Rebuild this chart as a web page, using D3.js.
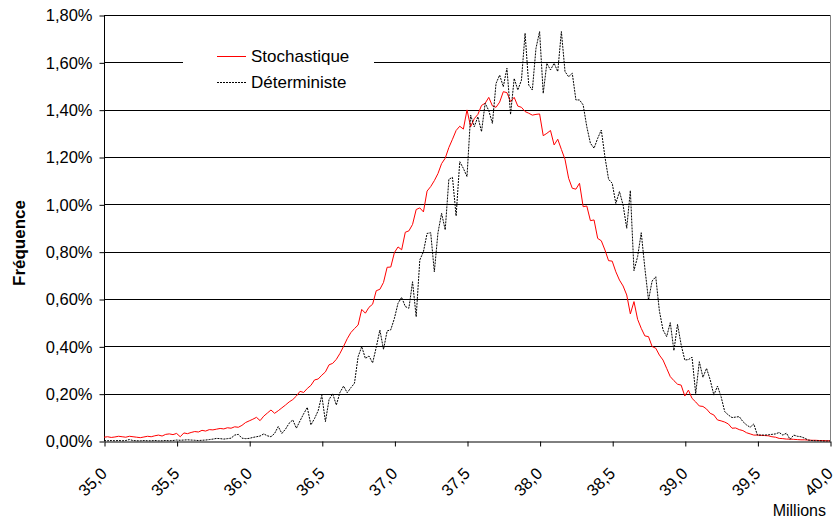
<!DOCTYPE html>
<html>
<head>
<meta charset="utf-8">
<script src="https://cdn.jsdelivr.net/npm/d3@7"></script>
<style>
  body { margin: 0; background: #fff; }
  text { font-family: "Liberation Sans", Arial, sans-serif; fill: #000; }
</style>
</head>
<body>
<div id="chart"></div>
<script>
// bins (millions)
const bins = [
  35.000,35.025,35.050,35.075,35.100,35.125,35.150,35.175,35.200,35.225,
  35.250,35.275,35.300,35.325,35.350,35.375,35.400,35.425,35.450,35.475,
  35.500,35.525,35.550,35.575,35.600,35.625,35.650,35.675,35.700,35.725,
  35.750,35.775,35.800,35.825,35.850,35.875,35.900,35.925,35.950,35.975,
  36.000,36.025,36.050,36.075,36.100,36.125,36.150,36.175,36.200,36.225,
  36.250,36.275,36.300,36.325,36.350,36.375,36.400,36.425,36.450,36.475,
  36.500,36.525,36.550,36.575,36.600,36.625,36.650,36.675,36.700,36.725,
  36.750,36.775,36.800,36.825,36.850,36.875,36.900,36.925,36.950,36.975,
  37.000,37.025,37.050,37.075,37.100,37.125,37.150,37.175,37.200,37.225,
  37.250,37.275,37.300,37.325,37.350,37.375,37.400,37.425,37.450,37.475,
  37.500,37.525,37.550,37.575,37.600,37.625,37.650,37.675,37.700,37.725,
  37.750,37.775,37.800,37.825,37.850,37.875,37.900,37.925,37.950,37.975,
  38.000,38.025,38.050,38.075,38.100,38.125,38.150,38.175,38.200,38.225,
  38.250,38.275,38.300,38.325,38.350,38.375,38.400,38.425,38.450,38.475,
  38.500,38.525,38.550,38.575,38.600,38.625,38.650,38.675,38.700,38.725,
  38.750,38.775,38.800,38.825,38.850,38.875,38.900,38.925,38.950,38.975,
  39.000,39.025,39.050,39.075,39.100,39.125,39.150,39.175,39.200,39.225,
  39.250,39.275,39.300,39.325,39.350,39.375,39.400,39.425,39.450,39.475,
  39.500,39.525,39.550,39.575,39.600,39.625,39.650,39.675,39.700,39.725,
  39.750,39.775,39.800,39.825,39.850,39.875,39.900,39.925,39.950,39.975,
  40.000
];

// frequencies in %
const stochastique = [
  0.016,0.018,0.015,0.017,0.020,0.018,0.016,0.020,0.018,0.016,
  0.014,0.017,0.020,0.018,0.022,0.025,0.021,0.028,0.030,0.027,
  0.032,0.018,0.034,0.031,0.036,0.040,0.038,0.045,0.042,0.048,
  0.047,0.050,0.053,0.051,0.056,0.054,0.060,0.058,0.066,0.078,
  0.085,0.092,0.100,0.086,0.105,0.118,0.131,0.117,0.128,0.140,
  0.152,0.165,0.175,0.190,0.210,0.205,0.222,0.235,0.258,0.262,
  0.278,0.292,0.322,0.328,0.345,0.370,0.400,0.432,0.458,0.475,
  0.490,0.556,0.540,0.565,0.578,0.635,0.641,0.670,0.734,0.735,
  0.796,0.820,0.808,0.882,0.888,0.915,0.978,0.985,0.968,1.056,
  1.075,1.100,1.130,1.172,1.195,1.240,1.275,1.312,1.330,1.318,
  1.399,1.328,1.362,1.380,1.418,1.427,1.452,1.416,1.410,1.432,
  1.476,1.472,1.434,1.452,1.415,1.410,1.392,1.385,1.377,1.380,
  1.382,1.290,1.300,1.312,1.251,1.275,1.232,1.190,1.110,1.068,
  1.064,1.089,0.990,0.993,0.931,0.934,0.856,0.846,0.807,0.762,
  0.760,0.715,0.680,0.655,0.617,0.537,0.589,0.514,0.476,0.444,
  0.441,0.399,0.392,0.363,0.342,0.307,0.272,0.255,0.240,0.236,
  0.190,0.215,0.180,0.165,0.148,0.146,0.135,0.117,0.110,0.089,
  0.085,0.080,0.072,0.054,0.055,0.048,0.044,0.035,0.030,0.025,
  0.025,0.024,0.023,0.022,0.018,0.016,0.011,0.010,0.008,0.008,
  0.007,0.006,0.005,0.005,0.004,0.003,0.003,0.002,0.002,0.001,
  0.001
];

const deterministe = [
  0.002,0.001,0.002,0.001,0.002,0.001,0.002,0.006,0.002,0.001,
  0.001,0.002,0.001,0.001,0.002,0.001,0.001,0.002,0.001,0.002,
  0.004,0.003,0.004,0.005,0.004,0.003,0.002,0.003,0.004,0.006,
  0.008,0.011,0.010,0.008,0.010,0.012,0.025,0.028,0.012,0.010,
  0.011,0.015,0.018,0.021,0.030,0.022,0.018,0.032,0.061,0.032,
  0.050,0.075,0.089,0.054,0.085,0.115,0.142,0.068,0.095,0.128,
  0.193,0.082,0.175,0.200,0.152,0.205,0.232,0.204,0.225,0.244,
  0.356,0.399,0.349,0.359,0.330,0.396,0.469,0.387,0.465,0.470,
  0.518,0.582,0.607,0.568,0.561,0.673,0.525,0.765,0.800,0.877,
  0.880,0.715,0.880,0.962,0.892,1.106,1.114,0.951,1.180,1.152,
  1.117,1.377,1.328,1.370,1.307,1.427,1.396,1.342,1.511,1.546,
  1.497,1.575,1.380,1.532,1.483,1.525,1.723,1.504,1.483,1.659,
  1.730,1.469,1.596,1.568,1.596,1.561,1.730,1.561,1.539,1.554,
  1.441,1.441,1.420,1.328,1.258,1.237,1.279,1.314,1.200,1.106,
  1.089,1.004,1.054,0.997,0.899,1.058,0.720,0.779,0.880,0.730,
  0.596,0.676,0.694,0.550,0.469,0.441,0.500,0.382,0.493,0.406,
  0.342,0.344,0.354,0.200,0.335,0.269,0.307,0.258,0.194,0.232,
  0.187,0.124,0.110,0.099,0.101,0.103,0.082,0.068,0.058,0.072,
  0.025,0.025,0.025,0.026,0.028,0.030,0.036,0.025,0.033,0.007,
  0.025,0.020,0.018,0.012,0.004,0.002,0.001,0.001,0.000,0.000,
  0.000
];

const xTicks = [35, 35.5, 36, 36.5, 37, 37.5, 38, 38.5, 39, 39.5, 40];
const yTicks = [0, 0.2, 0.4, 0.6, 0.8, 1.0, 1.2, 1.4, 1.6, 1.8];
const seriesNames = ["Stochastique", "Déterministe"];

const fr = d3.formatLocale({decimal: ",", thousands: "\u00a0", grouping: [3], currency: ["", " €"]});
const fmtY = d => fr.format(".2f")(d) + "%";
const fmtX = fr.format(".1f");

const svgWidth = 835, svgHeight = 519;
const plotLeft = 104, plotRight = 830, plotTop = 15, plotBottom = 441;

const svg = d3.select("#chart").append("svg")
  .attr("width", svgWidth)
  .attr("height", svgHeight);

const xScale = d3.scaleLinear().domain([35, 40]).range([plotLeft, plotRight]);
const yScale = d3.scaleLinear().domain([0, 1.8]).range([plotBottom, plotTop]);

// gridlines
svg.append("g")
  .selectAll("line")
  .data(yTicks.slice(1))
  .enter().append("line")
  .attr("x1", plotLeft).attr("x2", plotRight)
  .attr("y1", d => Math.round(yScale(d)) + 0.5)
  .attr("y2", d => Math.round(yScale(d)) + 0.5)
  .attr("stroke", "#000")
  .attr("stroke-width", 1);

// right border
svg.append("line")
  .attr("x1", plotRight + 0.5).attr("x2", plotRight + 0.5)
  .attr("y1", plotTop).attr("y2", plotBottom)
  .attr("stroke", "#808080");

// y axis
const yAxis = d3.axisLeft(yScale).tickValues(yTicks).tickFormat(fmtY).tickSize(5).tickPadding(7);
const yAxisGroup = svg.append("g")
  .attr("transform", `translate(${plotLeft + 0.5}, 0.5)`)
  .call(yAxis);
yAxisGroup.select(".domain").attr("d", `M0,${plotTop}V${plotBottom}`);
yAxisGroup.selectAll("text").style("font-size", "16.5px");

// x axis
const xAxis = d3.axisBottom(xScale).tickValues(xTicks).tickFormat(fmtX).tickSize(5).tickSizeOuter(0);
const xAxisGroup = svg.append("g")
  .attr("transform", `translate(0.5, ${plotBottom + 0.5})`)
  .call(xAxis);
xAxisGroup.selectAll("text")
  .style("font-size", "16.5px")
  .attr("text-anchor", "end")
  .attr("dy", 0)
  .attr("y", 0)
  .attr("transform", "translate(3, 33) rotate(-45)");

// lines
const line = d3.line()
  .x((d, i) => xScale(bins[i]))
  .y(d => yScale(d));

svg.append("path")
  .datum(stochastique)
  .attr("fill", "none")
  .attr("stroke", "#ff0000")
  .attr("stroke-width", 1)
  .attr("d", line);

svg.append("path")
  .datum(deterministe)
  .attr("fill", "none")
  .attr("stroke", "#000")
  .attr("stroke-width", 1)
  .attr("stroke-dasharray", "2,1")
  .attr("d", line);

// legend
const legend = svg.append("g");
legend.append("rect")
  .attr("x", 183).attr("y", 36).attr("width", 191).attr("height", 60)
  .attr("fill", "#fff");
const legendStyles = [
  {stroke: "#ff0000", dash: null},
  {stroke: "#000", dash: "2,1"}
];
seriesNames.forEach((name, i) => {
  const ly = 56 + i * 26;
  legend.append("line")
    .attr("x1", 217).attr("x2", 246)
    .attr("y1", ly + 0.5).attr("y2", ly + 0.5)
    .attr("stroke", legendStyles[i].stroke)
    .attr("stroke-dasharray", legendStyles[i].dash);
  legend.append("text")
    .attr("x", 251).attr("y", ly)
    .attr("dy", "0.36em")
    .style("font-size", "17px")
    .text(name);
});

// axis titles
svg.append("text")
  .attr("transform", "translate(25, 243) rotate(-90)")
  .attr("text-anchor", "middle")
  .style("font-size", "17px")
  .style("font-weight", "bold")
  .text("Fréquence");

svg.append("text")
  .attr("x", 826).attr("y", 516)
  .attr("text-anchor", "end")
  .style("font-size", "16px")
  .text("Millions");
</script>
</body>
</html>
